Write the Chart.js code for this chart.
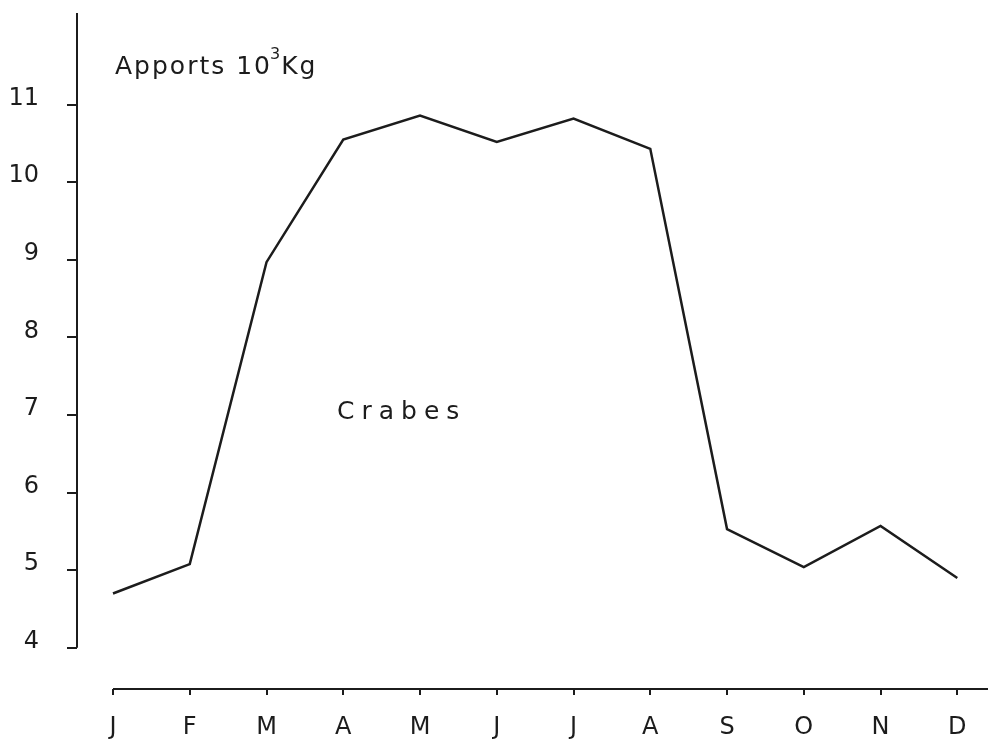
<!DOCTYPE html>
<html>
<head>
<meta charset="utf-8">
<script src="https://cdn.jsdelivr.net/npm/chart.js@4"></script>
<style>
  body { margin: 0; background: #fff; }
  #wrap { width: 988px; height: 742px; }
</style>
</head>
<body>
<div id="wrap"><canvas id="myChart"></canvas></div>
<script>
// apports mensuels de crabes (10^3 kg)
const mois = ['J', 'F', 'M', 'A', 'M', 'J', 'J', 'A', 'S', 'O', 'N', 'D'];
const apports = [4.7, 5.08, 8.97, 10.55, 10.86, 10.52, 10.82, 10.43, 5.53, 5.04, 5.57, 4.9];
const yTicks = [4, 5, 6, 7, 8, 9, 10, 11];

const ink = '#1c1c1c';
const police = '"DejaVu Sans", sans-serif';

const axesPlugin = {
    id: 'axes',
    afterDraw(chart) {
        const ctx = chart.ctx;
        const x = chart.scales.x;
        const y = chart.scales.y;
        const area = chart.chartArea;
        ctx.save();
        ctx.strokeStyle = ink;
        ctx.lineWidth = 2;
        ctx.beginPath();
        ctx.moveTo(area.left, area.top);
        ctx.lineTo(area.left, y.getPixelForValue(yTicks[0]));
        ctx.moveTo(x.getPixelForValue(0), area.bottom);
        ctx.lineTo(area.right, area.bottom);
        ctx.stroke();

        // titre de l'axe
        ctx.fillStyle = ink;
        ctx.textBaseline = 'alphabetic';
        ctx.textAlign = 'left';
        ctx.font = '25px ' + police;
        ctx.letterSpacing = '2px';
        let tx = area.left + 38;
        const ty = 74;
        ctx.fillText('Apports 10', tx, ty);
        tx += ctx.measureText('Apports 10').width - 2;
        ctx.font = '16px ' + police;
        ctx.fillText('3', tx, ty - 15);
        tx += ctx.measureText('3').width - 1;
        ctx.font = '25px ' + police;
        ctx.fillText('Kg', tx, ty);

        // nom de la série
        ctx.font = '25px ' + police;
        ctx.letterSpacing = '7px';
        ctx.textBaseline = 'middle';
        ctx.fillText('Crabes', 337, 412);
        ctx.restore();
    }
};

const config = {
    type: 'line',
    data: {
        datasets: [{
            label: 'Crabes',
            data: apports.map((v, i) => ({ x: i, y: v })),
            borderColor: ink,
            borderWidth: 2.5,
            pointRadius: 0,
            tension: 0
        }]
    },
    options: {
        responsive: true,
        maintainAspectRatio: false,
        animation: false,
        layout: { padding: { top: 13, right: 0, left: 0, bottom: 0 } },
        plugins: {
            legend: { display: false },
            tooltip: { enabled: false }
        },
        scales: {
            x: {
                type: 'linear',
                min: -0.469,
                max: 11.4,
                afterBuildTicks: (scale) => {
                    scale.ticks = mois.map((m, i) => ({ value: i }));
                },
                afterFit: (scale) => {
                    scale.height = 53;
                    scale.paddingLeft = 0;
                    scale.paddingRight = 0;
                },
                border: { display: false },
                grid: {
                    drawOnChartArea: false,
                    drawTicks: true,
                    tickLength: 6,
                    color: ink,
                    lineWidth: 2
                },
                ticks: {
                    callback: (value) => mois[value],
                    color: ink,
                    font: { family: police, size: 24 },
                    padding: 18,
                    maxRotation: 0,
                    autoSkip: false
                }
            },
            y: {
                min: 3.47,
                max: 12.18,
                afterBuildTicks: (scale) => {
                    scale.ticks = yTicks.map(v => ({ value: v }));
                },
                afterFit: (scale) => {
                    scale.width = 77;
                    scale.paddingTop = 0;
                    scale.paddingBottom = 0;
                },
                border: { display: false },
                grid: {
                    drawOnChartArea: false,
                    drawTicks: true,
                    tickLength: 10,
                    color: ink,
                    lineWidth: 2
                },
                ticks: {
                    color: ink,
                    font: { family: police, size: 24 },
                    padding: 28,
                    labelOffset: -6
                }
            }
        }
    },
    plugins: [axesPlugin]
};

const myChart = new Chart(
    document.getElementById('myChart'),
    config
);
</script>
</body>
</html>
